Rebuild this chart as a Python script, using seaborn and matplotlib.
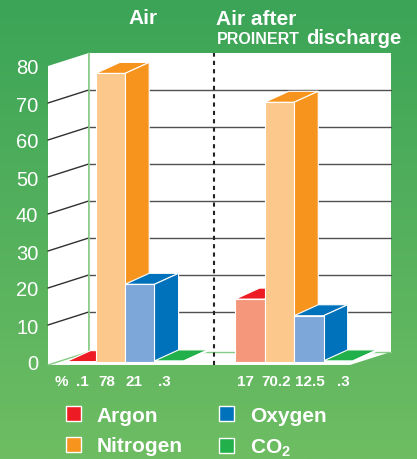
import numpy as np
import pandas as pd
import seaborn as sns
import matplotlib.pyplot as plt
from matplotlib.patches import Polygon, Patch
from matplotlib import font_manager

# values (percent by volume)
gases = ["Argon", "Nitrogen", "Oxygen", "CO2"]
air = [0.1, 78, 21, 0.3]
after_discharge = [17, 70.2, 12.5, 0.3]
legend_labels = ["Argon", "Nitrogen", "Oxygen", "CO$_2$"]
y_ticks = [0, 10, 20, 30, 40, 50, 60, 70, 80]

front_colors = ["#F5977B", "#FCC88B", "#7DA7D8", "#8DCF8A"]
dark_colors = ["#ED1C24", "#F7941D", "#0071BB", "#22B04B"]

sns.set_style("white")
plt.rcParams["font.family"] = ["Liberation Sans", "DejaVu Sans"]
plt.rcParams["mathtext.fontset"] = "custom"
plt.rcParams["mathtext.rm"] = "Liberation Sans:bold"
plt.rcParams["mathtext.it"] = "Liberation Sans:bold"
plt.rcParams["mathtext.bf"] = "Liberation Sans:bold"

installed = {f.name for f in font_manager.fontManager.ttflist}
narrow = "Liberation Sans Narrow" if "Liberation Sans Narrow" in installed else "Liberation Sans"

positions = [0, 1, 2, 3, 5.75, 6.75, 7.75, 8.75]
df = pd.DataFrame({
    "pos": positions,
    "pct": air + after_discharge,
    "gas": gases + gases,
})

# fake 3d: depth of the walls and of the bars in data units
WX, WY = 1.38, 3.5
BX, BY = 0.82, 2.97
B = -0.8
xmin, xmax = -1.122, 9.15
# small sideways nudges of the value labels (pixels), like the original artwork
label_nudge = [1, -4, -5.5, -5, -4.5, -3.5, 1, 5.5]

fig = plt.figure(figsize=(4.17, 4.6), dpi=100)

# green gradient background
bg = fig.add_axes([0, 0, 1, 1], zorder=-1)
top = np.array([59, 164, 87]) / 255
bottom = np.array([110, 189, 99]) / 255
t = np.linspace(0, 1, 256)[:, None]
grad = (top[None, :] * (1 - t) + bottom[None, :] * t)[:, None, :]
bg.imshow(grad, aspect="auto", extent=[0, 1, 0, 1])
bg.axis("off")

ax = fig.add_axes([48 / 417, 97 / 460, 302 / 417, 296 / 460])
ax.set_facecolor("none")

# walls and floor
ax.add_patch(Polygon([(xmin, B), (xmax, B), (xmax + WX, B + WY), (xmin + WX, B + WY)],
                     closed=True, fc="white", ec="none", zorder=1, clip_on=False))
ax.add_patch(Polygon([(xmin, B), (xmin, 80), (xmin + WX, 80 + WY), (xmin + WX, B + WY)],
                     closed=True, fc="white", ec="none", zorder=1, clip_on=False))
ax.add_patch(Polygon([(xmin + WX, B + WY), (xmax + WX, B + WY), (xmax + WX, 80 + WY), (xmin + WX, 80 + WY)],
                     closed=True, fc="white", ec="none", zorder=1, clip_on=False))
for v in y_ticks[1:-1]:
    ax.plot([xmin + WX, xmax + WX], [v + WY, v + WY], color="#505050", lw=1, zorder=1.5, clip_on=False)
    ax.plot([xmin, xmin + WX], [v, v + WY], color="#303030", lw=1, zorder=1.5, clip_on=False)
green_line = "#86CC86"
ax.plot([xmin + WX, xmin + WX], [B + WY, 80 + WY], color=green_line, lw=1.2, zorder=1.6, clip_on=False)
ax.plot([xmin + WX, xmax + WX], [B + WY, B + WY], color=green_line, lw=1, zorder=1.6, clip_on=False)
ax.plot([xmin, xmin + WX], [B, B + WY], color=green_line, lw=1, zorder=1.6, clip_on=False)

# separator between the two groups
xs = (positions[3] + positions[4]) / 2 + 0.15
ax.plot([xs, xs], [B, 80 + WY], color="#222222", lw=1.5, ls=(0, (2, 2)), zorder=1.8, clip_on=False)

# front faces
sns.barplot(data=df, x="pos", y="pct", hue="gas", hue_order=gases, palette=front_colors,
            native_scale=True, width=1, dodge=False, saturation=1, errorbar=None,
            legend=False, edgecolor="white", linewidth=0.8, zorder=3, ax=ax)

# tops and sides
for p in list(ax.patches):
    if not hasattr(p, "get_width"):
        continue
    x0, w, h = p.get_x(), p.get_width(), p.get_height()
    if w <= 0:
        continue
    i = int(np.argmin([abs(x0 + w / 2 - q) for q in positions]))
    c = dark_colors[i % 4]
    x1 = x0 + w
    z = 2 + i * 0.01
    ax.add_patch(Polygon([(x0, h), (x1, h), (x1 + BX, h + BY), (x0 + BX, h + BY)], closed=True,
                         fc=c, ec="white", lw=0.8, zorder=z, clip_on=False))
    ax.add_patch(Polygon([(x1, 0), (x1 + BX, BY), (x1 + BX, h + BY), (x1, h)], closed=True,
                         fc=c, ec="white", lw=0.8, zorder=z, clip_on=False))

ax.set_xlim(xmin, xmax)
ax.set_ylim(0, 80)
ax.set_xticks([])
ax.set_yticks(y_ticks)
ax.set_yticklabels([str(v) for v in y_ticks])
ax.tick_params(axis="y", length=0, pad=7, labelcolor="white", labelsize=14.5)
ax.set_xlabel("")
ax.set_ylabel("")
for s in ax.spines.values():
    s.set_visible(False)

# value labels under the bars
px = (xmax - xmin) / 302
ax.text(positions[0] - 0.68, -6.2, "%", color="white", fontsize=11, fontweight="bold",
        family=narrow, ha="center", va="baseline", clip_on=False)
for q, v, n in zip(positions, df["pct"], label_nudge):
    lab = f"{v:g}".lstrip("0")
    ax.text(q + n * px, -6.2, lab, color="white", fontsize=11, fontweight="bold",
            family=narrow, ha="center", va="baseline", clip_on=False)

# titles
fig.text(143 / 417, 1 - 24 / 460, "Air", color="white", fontsize=15, fontweight="bold",
         ha="center", va="baseline")
fig.text(216 / 417, 1 - 25 / 460, "Air after", color="white", fontsize=15, fontweight="bold",
         ha="left", va="baseline")
fig.text(217 / 417, 1 - 44 / 460, "PROINERT", color="white", fontsize=11.5, fontweight="bold",
         ha="left", va="baseline")
fig.text(306 / 417, 1 - 44 / 460, "discharge", color="white", fontsize=14.5, fontweight="bold",
         ha="left", va="baseline")

handles = [Patch(facecolor=c, edgecolor="white", linewidth=1) for c in dark_colors]
fig.legend(handles, legend_labels, ncol=2, loc="upper left", bbox_to_anchor=(66 / 417, 1 - 407 / 460),
           frameon=False, borderpad=0, borderaxespad=0, handlelength=0.72, handleheight=0.72,
           handletextpad=0.75, columnspacing=1.75, labelspacing=0.55, labelcolor="white",
           prop={"weight": "bold", "size": 15})

fig.savefig("out.png", dpi=100)
